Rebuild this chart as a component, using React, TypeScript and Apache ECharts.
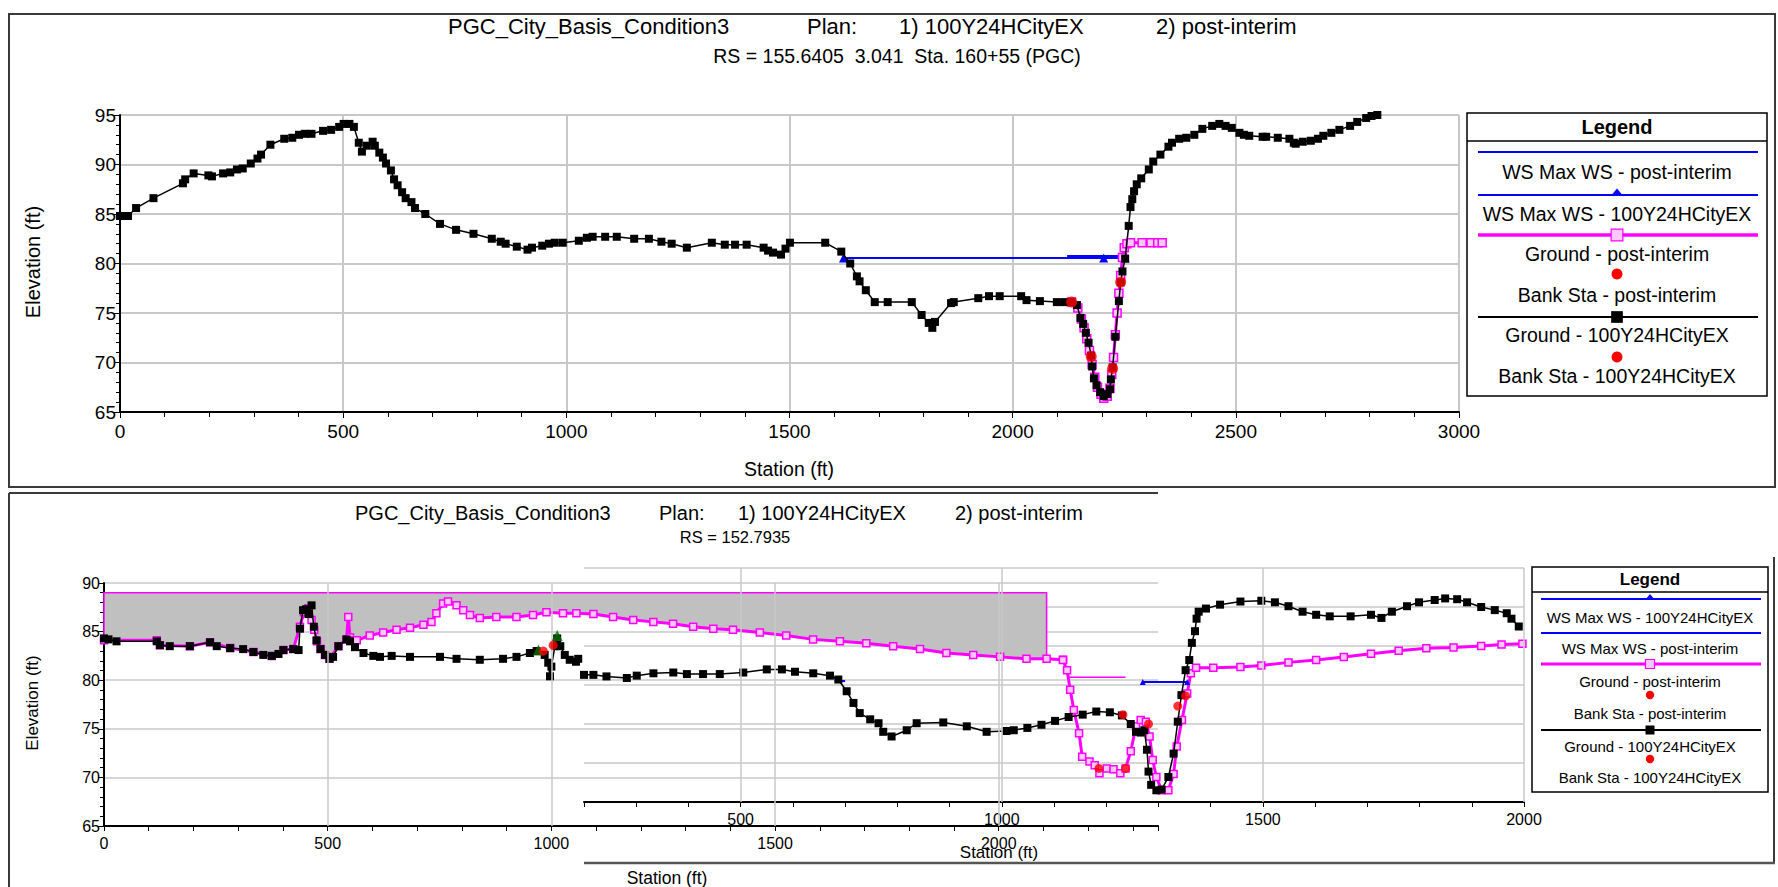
import { useEffect, useRef } from 'react';
import * as echarts from 'echarts';

type Pt = [number, number];

// ---------- Upper cross section: RS = 155.6405 ----------
const topGround100Y: Pt[] = [
  [0, 84.8], [18, 84.8], [36, 85.6], [75, 86.6], [141, 88.1], [146, 88.5], [165, 89.1], [198, 88.9], [206, 88.8],
  [231, 89.1], [247, 89.2], [262, 89.5], [275, 89.6], [293, 90.1], [308, 90.6], [316, 91.0], [337, 92.0], [368, 92.6],
  [386, 92.7], [401, 93.0], [414, 93.1], [429, 93.1], [455, 93.4], [473, 93.5], [491, 93.8], [501, 94.1], [514, 94.1],
  [524, 93.8], [535, 92.2], [542, 91.3], [553, 91.9], [566, 92.3], [571, 91.9], [581, 91.2], [589, 90.7], [596, 90.1],
  [607, 89.4], [614, 88.5], [622, 87.9], [632, 87.2], [640, 86.6], [653, 86.2], [661, 85.6], [684, 85.0], [717, 84.0],
  [753, 83.4], [792, 83.0], [833, 82.5], [853, 82.2], [864, 82.0], [889, 81.7], [913, 81.4], [923, 81.6], [946, 81.8],
  [961, 82.0], [974, 82.1], [992, 82.1], [1028, 82.3], [1046, 82.6], [1059, 82.7], [1087, 82.7], [1113, 82.7],
  [1152, 82.5], [1185, 82.5], [1213, 82.2], [1236, 82.0], [1270, 81.6], [1326, 82.1], [1355, 81.9], [1378, 81.9],
  [1404, 81.9], [1442, 81.6], [1452, 81.3], [1463, 81.1], [1481, 80.9], [1491, 81.5], [1501, 82.1], [1580, 82.1],
  [1616, 81.2], [1636, 80.0], [1651, 78.7], [1657, 78.2], [1671, 77.3], [1691, 76.1], [1720, 76.1], [1774, 76.1],
  [1796, 74.8], [1812, 74.0], [1820, 73.5], [1826, 74.1], [1862, 76.0], [1868, 76.1], [1923, 76.5], [1947, 76.7],
  [1971, 76.7], [2019, 76.7], [2031, 76.3], [2061, 76.2], [2099, 76.1], [2116, 76.1], [2132, 76.1], [2144, 75.8],
  [2152, 74.5], [2158, 73.9], [2164, 73.0], [2170, 72.0], [2176, 70.7], [2178, 69.6], [2182, 68.4], [2188, 67.7],
  [2196, 67.0], [2204, 66.6], [2212, 66.8], [2218, 67.3], [2220, 68.3], [2224, 69.5], [2230, 72.6], [2238, 76.2],
  [2242, 78.1], [2246, 79.2], [2252, 80.5], [2260, 83.8], [2264, 85.7], [2268, 86.5], [2272, 87.3], [2278, 88.0],
  [2288, 88.6], [2305, 89.5], [2315, 90.3], [2331, 91.0], [2349, 91.8], [2357, 92.2], [2373, 92.6], [2389, 92.7],
  [2407, 93.0], [2425, 93.6], [2447, 93.9], [2463, 94.1], [2477, 93.9], [2491, 93.7], [2508, 93.2], [2518, 93.0],
  [2530, 92.9], [2560, 92.8], [2568, 92.8], [2594, 92.7], [2620, 92.6], [2630, 92.2], [2634, 92.1], [2650, 92.3],
  [2668, 92.4], [2684, 92.6], [2696, 92.9], [2714, 93.2], [2732, 93.5], [2756, 93.9], [2772, 94.3], [2792, 94.7],
  [2804, 94.9], [2817, 95.0],
];
const topGroundPost: Pt[] = [
  [2132, 76.1], [2146, 75.5], [2154, 74.4], [2160, 73.5], [2166, 72.4], [2172, 71.2], [2178, 69.8], [2184, 68.5],
  [2190, 67.5], [2198, 66.8], [2204, 66.4], [2212, 66.6], [2218, 67.4], [2222, 68.8], [2226, 70.5], [2230, 72.8],
  [2234, 75.0], [2238, 77.0], [2242, 78.8], [2246, 80.6], [2250, 81.6], [2256, 82.0], [2264, 82.1], [2290, 82.1],
  [2310, 82.1], [2325, 82.1], [2335, 82.1],
];
const topWs100Y: Pt[] = [[1621, 80.55], [2204, 80.55], [2252, 80.55]];
const topWsPost: Pt[] = [[2122, 80.75], [2252, 80.75]];
const topBank100Y: Pt[] = [[2132, 76.1], [2242, 78.1]];
const topBankPost: Pt[] = [[2176, 70.6], [2224, 69.4]];

// ---------- Lower cross section: RS = 152.7935 (left plot) ----------
const lowGround100Y: Pt[] = [
  [0, 84.3], [10, 84.2], [28, 84.0], [118, 84.0], [125, 83.6], [147, 83.5], [192, 83.5], [237, 83.9], [252, 83.5],
  [282, 83.3], [311, 83.2], [334, 82.9], [356, 82.6], [375, 82.5], [390, 82.7], [401, 83.1], [423, 83.2], [435, 83.1],
  [438, 85.3], [445, 87.2], [452, 87.3], [457, 86.8], [464, 87.7], [469, 85.5], [475, 84.1], [484, 83.2], [494, 82.6],
  [504, 82.2], [512, 82.4], [524, 83.5], [542, 84.2], [550, 84.0], [561, 83.4], [580, 82.8], [602, 82.5], [617, 82.4],
  [643, 82.5], [684, 82.4], [751, 82.4], [788, 82.2], [840, 82.1], [892, 82.2], [922, 82.4], [952, 82.8], [967, 83.0],
  [985, 82.6], [993, 81.8], [997, 80.4], [1000, 81.4], [1008, 83.5], [1013, 84.3], [1020, 83.5], [1030, 82.6],
  [1041, 82.1], [1055, 81.9], [1060, 82.2],
];
const lowGroundPost: Pt[] = [
  [0, 84.1], [118, 84.1], [125, 83.6], [192, 83.5], [237, 83.9], [282, 83.3], [334, 82.9], [375, 82.5], [401, 83.1],
  [423, 83.2], [438, 85.5], [447, 87.0], [457, 87.4], [464, 86.2], [470, 85.2], [476, 84.0], [484, 83.2], [494, 82.6],
  [504, 82.2], [524, 83.5], [542, 84.2], [546, 86.5], [550, 84.4], [557, 84.1], [565, 84.1], [594, 84.6], [624, 84.9],
  [654, 85.2], [684, 85.4], [714, 85.7], [732, 86.0], [743, 86.9], [758, 87.9], [769, 88.1], [788, 87.7], [803, 87.2],
  [818, 86.7], [840, 86.4], [877, 86.5], [922, 86.5], [959, 86.7], [989, 87.0], [1026, 86.9], [1056, 86.9],
  [1094, 86.8], [1138, 86.5], [1183, 86.2], [1228, 86.0], [1272, 85.8], [1317, 85.5], [1362, 85.3], [1406, 85.2],
  [1466, 84.9], [1525, 84.6], [1585, 84.2], [1645, 84.0], [1704, 83.8], [1764, 83.5], [1824, 83.2], [1883, 82.8],
  [1943, 82.6], [2003, 82.4], [2062, 82.2], [2107, 82.2], [2144, 82.1],
];
// blocked (ineffective) area: flat top elevation and end station
const lowBlockTop = 89.0;
const lowBlockEnd = 2107;
const lowLevee: Pt[] = [[971, 83.1], [1013, 84.6]];
const lowBank100Y: Pt[] = [[982, 83.0], [1004, 83.6]];

// ---------- Lower cross section (right plot) ----------
const rightGround100Y: Pt[] = [
  [200, 81.3], [218, 81.3], [243, 81.1], [282, 80.9], [301, 81.2], [333, 81.5], [371, 81.6], [397, 81.4], [428, 81.4],
  [460, 81.4], [505, 81.6], [550, 82.0], [579, 82.0], [604, 81.7], [639, 81.5], [671, 81.2], [687, 80.7], [703, 79.2],
  [716, 77.7], [728, 76.4], [748, 75.6], [764, 75.1], [773, 74.0], [789, 73.4], [818, 74.2], [837, 75.1], [888, 75.2],
  [933, 74.7], [971, 74.0], [1009, 74.1], [1023, 74.2], [1049, 74.5], [1076, 74.9], [1102, 75.4], [1128, 75.9],
  [1155, 76.2], [1181, 76.6], [1207, 76.5], [1230, 76.1], [1247, 75.0], [1257, 74.0], [1266, 73.9], [1273, 74.2],
  [1278, 71.7], [1281, 68.9], [1286, 67.2], [1296, 66.5], [1306, 66.6], [1319, 68.2], [1329, 71.2], [1337, 75.3],
  [1344, 78.7], [1352, 81.9], [1359, 83.2], [1364, 85.4], [1370, 86.9], [1373, 88.5], [1377, 89.4], [1391, 89.8],
  [1418, 90.3], [1457, 90.7], [1497, 90.8], [1523, 90.6], [1549, 90.1], [1576, 89.4], [1602, 89.0], [1628, 88.8],
  [1668, 88.8], [1707, 89.0], [1727, 88.6], [1747, 89.4], [1776, 90.1], [1799, 90.6], [1829, 90.9], [1849, 91.1],
  [1872, 91.0], [1891, 90.6], [1918, 90.0], [1944, 89.6], [1967, 89.2], [1976, 88.5], [1990, 87.5],
];
const rightGroundPost: Pt[] = [
  [1117, 83.2], [1125, 81.9], [1131, 79.4], [1138, 76.8], [1148, 73.8], [1154, 70.8], [1168, 70.2], [1178, 69.7],
  [1187, 68.7], [1201, 69.3], [1214, 69.2], [1227, 68.7], [1237, 69.3], [1247, 71.5], [1257, 74.7], [1266, 75.5],
  [1276, 75.3], [1283, 73.4], [1289, 70.4], [1296, 68.2], [1306, 66.5], [1319, 66.5], [1329, 68.6], [1335, 72.1],
  [1345, 75.5], [1355, 78.9], [1362, 81.5], [1372, 82.2], [1405, 82.2], [1457, 82.3], [1497, 82.5], [1549, 82.9],
  [1602, 83.2], [1655, 83.6], [1707, 84.0], [1760, 84.4], [1813, 84.7], [1865, 84.8], [1918, 85.0], [1957, 85.2],
  [1997, 85.3],
];
const rightPostEdge: Pt[] = [[1128, 81.0], [1237, 81.0]];
const rightWs100Y: Pt[] = [[1270, 80.4], [1355, 80.4]];
const rightWsPost: Pt[] = [[686, 80.5], [700, 80.5]];
const rightBank100Y: Pt[] = [[1232, 76.2], [1337, 77.3], [1352, 78.6]];
const rightBankPost: Pt[] = [[1186, 69.3], [1237, 69.3], [1281, 75.0]];

const lowGridStations = [500, 1000, 1500, 2000];
const rightGridStations = [500, 1000, 1500, 2000];

const legendNames = [
  'WS Max WS - post-interim',
  'WS Max WS - 100Y24HCityEX',
  'Ground - post-interim',
  'Bank Sta - post-interim',
  'Ground - 100Y24HCityEX',
  'Bank Sta - 100Y24HCityEX',
];

const SANS = "'Liberation Sans', Arial, sans-serif";
const BLUE = '#0000ff';
const MAGENTA = '#ff00ff';
const GRID_GRAY = '#c8c8c8';

function groundSeries(data: Pt[], xi: number, size: number) {
  return {
    type: 'line', xAxisIndex: xi, yAxisIndex: xi, data, z: 4,
    symbol: 'rect', symbolSize: size, showAllSymbol: true,
    itemStyle: { color: '#000' }, lineStyle: { color: '#000', width: 1.5 },
  };
}
function postSeries(data: Pt[], xi: number, size: number) {
  return {
    type: 'line', xAxisIndex: xi, yAxisIndex: xi, data, z: 3,
    symbol: 'rect', symbolSize: size, showAllSymbol: true,
    itemStyle: { color: '#ffc8ff', borderColor: MAGENTA, borderWidth: 1.5 },
    lineStyle: { color: MAGENTA, width: 3 },
  };
}
function bankSeries(data: Pt[], xi: number, size: number) {
  return {
    type: 'scatter', xAxisIndex: xi, yAxisIndex: xi, data, z: 6,
    symbol: 'circle', symbolSize: size, itemStyle: { color: '#ff0000' },
  };
}
function wsSeries(data: Pt[], xi: number, marker: boolean, size: number) {
  return {
    type: 'line', xAxisIndex: xi, yAxisIndex: xi, data, z: 3,
    symbol: marker ? 'triangle' : 'none', symbolSize: size, showAllSymbol: true,
    itemStyle: { color: BLUE }, lineStyle: { color: BLUE, width: 2 },
  };
}
function gridLineSeries(xi: number, stations: number[], width: number) {
  return {
    type: 'line', xAxisIndex: xi, yAxisIndex: xi, z: 1, silent: true,
    data: [[stations[0], 70]], symbol: 'none', lineStyle: { width: 0 },
    markLine: {
      silent: true, symbol: ['none', 'none'], label: { show: false },
      lineStyle: { color: GRID_GRAY, type: 'solid', width },
      data: stations.map((s) => ({ xAxis: s })),
    },
  };
}

type Row = { y: number; kind: 'line' | 'text' | 'dot'; color?: string; marker?: 'tri' | 'hsq' | 'sq'; text?: string; w?: number };

function legendBox(x: number, y: number, w: number, h: number, divY: number, titleY: number,
  lx0: number, lx1: number, cx: number, fs: number, titleFs: number, rows: Row[]) {
  const els: any[] = [
    { type: 'rect', shape: { x, y, width: w, height: h }, style: { fill: '#fff', stroke: '#000', lineWidth: 1.5 } },
    { type: 'line', shape: { x1: x, y1: divY, x2: x + w, y2: divY }, style: { stroke: '#000', lineWidth: 1.5 } },
    { type: 'text', x: cx, y: titleY, style: { text: 'Legend', font: `bold ${titleFs}px ${SANS}`, fill: '#000', align: 'center', verticalAlign: 'middle' } },
  ];
  rows.forEach((r) => {
    if (r.kind === 'text') {
      els.push({ type: 'text', x: cx, y: r.y, style: { text: r.text, font: `${fs}px ${SANS}`, fill: '#000', align: 'center', verticalAlign: 'middle' } });
    } else if (r.kind === 'dot') {
      els.push({ type: 'circle', shape: { cx, cy: r.y, r: fs * 0.28 }, style: { fill: '#ff0000' } });
    } else {
      els.push({ type: 'line', shape: { x1: lx0, y1: r.y, x2: lx1, y2: r.y }, style: { stroke: r.color, lineWidth: r.w || 2 } });
      const s = fs * 0.3;
      if (r.marker === 'tri') {
        els.push({ type: 'polygon', shape: { points: [[cx, r.y - s * 1.1], [cx - s, r.y + 0.5], [cx + s, r.y + 0.5]] }, style: { fill: r.color } });
      } else if (r.marker === 'hsq') {
        els.push({ type: 'rect', shape: { x: cx - s, y: r.y - s, width: 2 * s, height: 2 * s }, style: { fill: '#ffc8ff', stroke: r.color, lineWidth: 1.2 } });
      } else if (r.marker === 'sq') {
        els.push({ type: 'rect', shape: { x: cx - s, y: r.y - s, width: 2 * s, height: 2 * s }, style: { fill: r.color } });
      }
    }
  });
  return els;
}

function txt(text: string, x: number, y: number, size: number, align = 'left', rotation = 0) {
  return { type: 'text', x, y, rotation, style: { text, font: `${size}px ${SANS}`, fill: '#000', align, verticalAlign: 'middle' } };
}

function buildOption() {
  const blockOutline: Pt[] = [
    [0, lowBlockTop], [lowBlockEnd, lowBlockTop],
    ...lowGroundPost.filter((p) => p[0] <= lowBlockEnd).slice().reverse(),
  ];

  const axisLineStyle = { show: true, lineStyle: { color: '#000', width: 2 } };
  const plainFmt = (v: number) => String(v);
  const stationFmt = (v: number) => (v % 500 === 0 && v <= 2000 ? String(v) : '');

  const topLegend = legendBox(1467, 113, 300, 283, 141, 127, 1478, 1758, 1617, 19.5, 20, [
    { y: 152, kind: 'line', color: BLUE },
    { y: 172, kind: 'text', text: legendNames[0] },
    { y: 195, kind: 'line', color: BLUE, marker: 'tri' },
    { y: 214, kind: 'text', text: legendNames[1] },
    { y: 235, kind: 'line', color: MAGENTA, marker: 'hsq', w: 3.5 },
    { y: 254, kind: 'text', text: legendNames[2] },
    { y: 274, kind: 'dot' },
    { y: 295, kind: 'text', text: legendNames[3] },
    { y: 317, kind: 'line', color: '#000', marker: 'sq' },
    { y: 335, kind: 'text', text: legendNames[4] },
    { y: 357, kind: 'dot' },
    { y: 376, kind: 'text', text: legendNames[5] },
  ]);
  const lowLegend = legendBox(1532, 567, 236, 225, 592, 579, 1541, 1761, 1650, 15, 17, [
    { y: 599, kind: 'line', color: BLUE, marker: 'tri' },
    { y: 617, kind: 'text', text: legendNames[1] },
    { y: 633, kind: 'line', color: BLUE },
    { y: 648, kind: 'text', text: legendNames[0] },
    { y: 664, kind: 'line', color: MAGENTA, marker: 'hsq', w: 3 },
    { y: 681, kind: 'text', text: legendNames[2] },
    { y: 695, kind: 'dot' },
    { y: 713, kind: 'text', text: legendNames[3] },
    { y: 730, kind: 'line', color: '#000', marker: 'sq' },
    { y: 746, kind: 'text', text: legendNames[4] },
    { y: 759, kind: 'dot' },
    { y: 777, kind: 'text', text: legendNames[5] },
  ]);

  const frame = { stroke: '#3a3a3a', lineWidth: 2 };
  const graphic: any[] = [
    // panel frames
    { type: 'rect', shape: { x: 9, y: 14, width: 1766, height: 473 }, style: { fill: 'none', ...frame } },
    { type: 'line', shape: { x1: 9, y1: 493, x2: 1158, y2: 493 }, style: frame },
    { type: 'line', shape: { x1: 9, y1: 493, x2: 9, y2: 887 }, style: frame },
    { type: 'line', shape: { x1: 1774, y1: 557, x2: 1774, y2: 863 }, style: frame },
    { type: 'line', shape: { x1: 584, y1: 863, x2: 1775, y2: 863 }, style: { stroke: '#555', lineWidth: 2.5 } },
    // upper titles
    txt('PGC_City_Basis_Condition3', 448, 26, 22),
    txt('Plan:', 807, 26, 22),
    txt('1) 100Y24HCityEX', 899, 26, 22),
    txt('2) post-interim', 1156, 26, 22),
    txt('RS = 155.6405  3.041  Sta. 160+55 (PGC)', 897, 56, 19.5, 'center'),
    txt('Elevation (ft)', 33, 262, 20, 'center', Math.PI / 2),
    txt('Station (ft)', 789, 469, 19.5, 'center'),
    // lower titles
    txt('PGC_City_Basis_Condition3', 355, 513, 20),
    txt('Plan:', 659, 513, 20),
    txt('1) 100Y24HCityEX', 738, 513, 20),
    txt('2) post-interim', 955, 513, 20),
    txt('RS = 152.7935', 735, 537, 16.5, 'center'),
    txt('Elevation (ft)', 32, 703, 17, 'center', Math.PI / 2),
    txt('Station (ft)', 999, 852, 17, 'center'),
    txt('Station (ft)', 667, 878, 17.5, 'center'),
    ...topLegend,
    ...lowLegend,
  ];

  return {
    animation: false,
    backgroundColor: '#ffffff',
    grid: [
      { left: 120, top: 115, width: 1339, height: 297 },
      { left: 104, top: 583, width: 1054, height: 243 },
      { left: 584, top: 568, width: 940, height: 234 },
    ],
    xAxis: [
      {
        type: 'value', gridIndex: 0, min: 0, max: 3000, interval: 500,
        axisLine: axisLineStyle,
        axisTick: { show: true, length: 6, lineStyle: { color: '#000' } },
        minorTick: { show: true, splitNumber: 5, length: 5, lineStyle: { color: '#000' } },
        splitLine: { show: true, lineStyle: { color: GRID_GRAY, width: 2 } },
        axisLabel: { color: '#000', fontSize: 19, fontFamily: SANS, margin: 10, formatter: plainFmt },
      },
      {
        type: 'value', gridIndex: 1, min: 0, max: 2356, interval: 100,
        axisLine: axisLineStyle,
        axisTick: { show: true, length: 5, lineStyle: { color: '#000' } },
        splitLine: { show: false },
        axisLabel: { color: '#000', fontSize: 16, fontFamily: SANS, margin: 9, formatter: stationFmt, showMinLabel: true },
      },
      {
        type: 'value', gridIndex: 2, min: 200, max: 2000, interval: 100,
        axisLine: axisLineStyle,
        axisTick: { show: true, length: 5, lineStyle: { color: '#000' } },
        splitLine: { show: false },
        axisLabel: { color: '#000', fontSize: 16, fontFamily: SANS, margin: 9, formatter: stationFmt },
      },
    ],
    yAxis: [
      {
        type: 'value', gridIndex: 0, min: 65, max: 95, interval: 5,
        axisLine: axisLineStyle,
        axisTick: { show: true, length: 6, lineStyle: { color: '#000' } },
        minorTick: { show: true, splitNumber: 5, length: 4, lineStyle: { color: '#000' } },
        splitLine: { show: true, lineStyle: { color: GRID_GRAY, width: 2 } },
        axisLabel: { color: '#000', fontSize: 19, fontFamily: SANS, margin: 4, formatter: plainFmt },
      },
      {
        type: 'value', gridIndex: 1, min: 65, max: 90, interval: 5,
        axisLine: axisLineStyle,
        axisTick: { show: true, length: 6, lineStyle: { color: '#000' } },
        minorTick: { show: true, splitNumber: 5, length: 4, lineStyle: { color: '#000' } },
        splitLine: { show: true, lineStyle: { color: GRID_GRAY, width: 1.5 } },
        axisLabel: { color: '#000', fontSize: 16, fontFamily: SANS, margin: 4, formatter: plainFmt },
      },
      {
        type: 'value', gridIndex: 2, min: 65, max: 95, interval: 5,
        axisLine: { show: false }, axisTick: { show: false }, axisLabel: { show: false },
        splitLine: { show: true, lineStyle: { color: GRID_GRAY, width: 1.5 } },
      },
    ],
    graphic,
    series: [
      // upper section
      wsSeries(topWsPost, 0, false, 8),
      wsSeries(topWs100Y, 0, true, 9),
      postSeries(topGroundPost, 0, 8),
      groundSeries(topGround100Y, 0, 8),
      bankSeries(topBankPost, 0, 11),
      bankSeries(topBank100Y, 0, 11),
      // lower section, left plot
      gridLineSeries(1, lowGridStations, 1.5),
      {
        type: 'custom', xAxisIndex: 1, yAxisIndex: 1, z: 2, silent: true,
        data: [[0, lowBlockTop]],
        renderItem: (_p: any, api: any) => ({
          type: 'polygon',
          shape: { points: blockOutline.map((p) => api.coord(p)) },
          style: { fill: '#c0c0c0', stroke: MAGENTA, lineWidth: 1.5 },
        }),
      },
      postSeries(lowGroundPost, 1, 7),
      groundSeries(lowGround100Y, 1, 8),
      {
        type: 'scatter', xAxisIndex: 1, yAxisIndex: 1, data: lowLevee, z: 5,
        symbol: 'triangle', symbolSize: 11, itemStyle: { color: '#007000' },
      },
      bankSeries(lowBank100Y, 1, 9),
      // lower section, right plot
      gridLineSeries(2, rightGridStations, 1.5),
      {
        type: 'line', xAxisIndex: 2, yAxisIndex: 2, data: rightPostEdge, z: 3,
        symbol: 'none', lineStyle: { color: MAGENTA, width: 1.5 },
      },
      wsSeries(rightWsPost, 2, false, 6),
      wsSeries(rightWs100Y, 2, true, 6),
      postSeries(rightGroundPost, 2, 7),
      groundSeries(rightGround100Y, 2, 8),
      bankSeries(rightBankPost, 2, 9),
      bankSeries(rightBank100Y, 2, 9),
    ],
  };
}

export default function App() {
  const ref = useRef<HTMLDivElement>(null);
  useEffect(() => {
    if (!ref.current) return;
    const chart = echarts.init(ref.current, null, { renderer: 'svg' });
    chart.setOption(buildOption() as any);
    return () => chart.dispose();
  }, []);
  return (
    <div
      ref={ref}
      style={{ position: 'fixed', left: 0, top: 0, width: 1778, height: 887, background: '#fff' }}
    />
  );
}
